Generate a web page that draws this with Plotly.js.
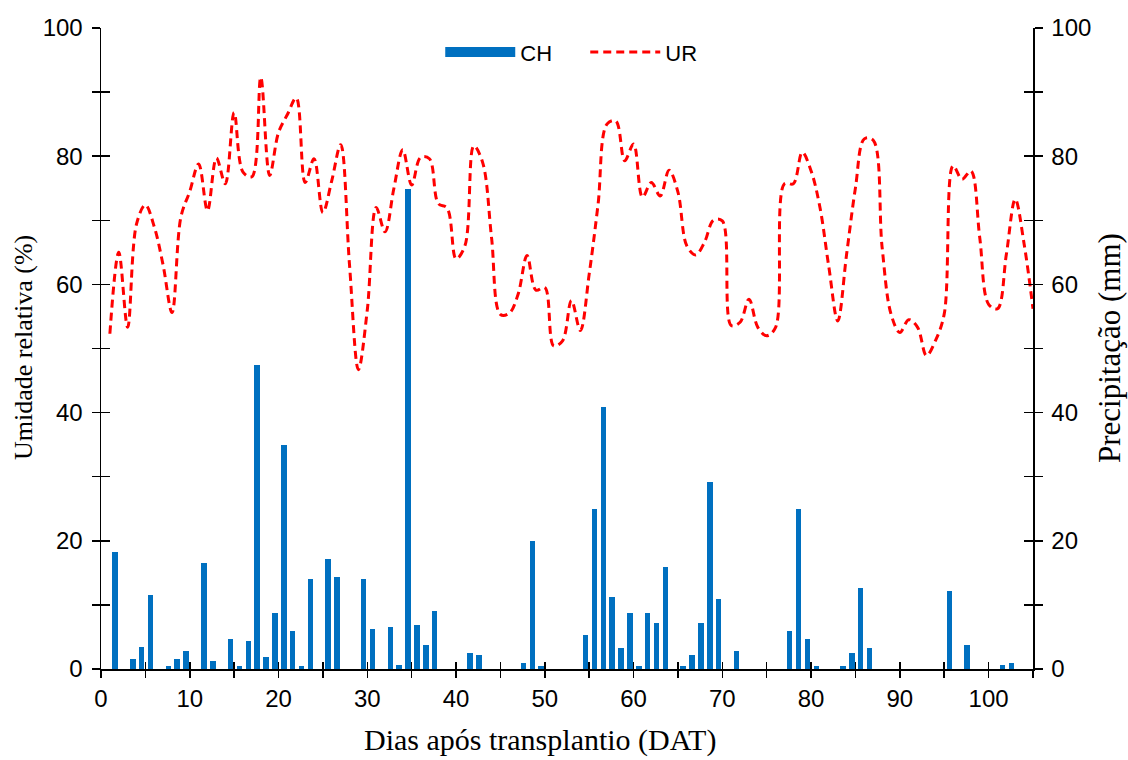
<!DOCTYPE html>
<html>
<head>
<meta charset="utf-8">
<script src="https://cdn.plot.ly/plotly-3.0.1.min.js"></script>
<style>html,body{margin:0;padding:0;background:#fff;}#chart{width:1128px;height:760px;}</style>
</head>
<body>
<div id="chart"></div>
<script>
// Precipitação (CH, mm) by day after transplanting
const chDays = [1,3,4,5,7,8,9,11,12,14,15,16,17,18,19,20,21,22,23,25,26,29,30,32,33,34,35,36,37,41,42,47,48,49,54,55,56,57,58,59,60,61,62,63,65,66,67,68,69,71,77,78,79,80,83,84,85,86,95,97,101,102];
const chValues = [18.3,1.6,3.4,11.5,0.4,1.6,2.8,16.5,1.2,4.7,0.4,4.4,47.4,1.9,8.7,34.9,5.9,0.4,14.0,17.1,14.3,14.0,6.2,6.6,0.7,74.9,6.9,3.7,9.0,2.5,2.2,0.9,19.9,0.4,5.3,25.0,40.9,11.2,3.2,8.7,0.4,8.7,7.2,15.9,0.4,2.2,7.2,29.2,10.9,2.8,5.9,25.0,4.7,0.4,0.4,2.5,12.7,3.2,12.2,3.7,0.6,0.9];

// Umidade relativa (UR, %) days 1..105
const urDays = Array.from({length:105},(_,i)=>i+1);
const urValues = [52.3,65.0,53.3,69.4,72.4,69.0,63.0,55.6,70.5,74.5,
78.8,71.5,79.7,75.7,86.8,77.5,76.8,92.3,77.0,83.7,
86.5,89.1,75.9,79.6,71.2,76.2,81.8,63.0,46.7,56.0,
72.0,68.2,75.0,81.0,75.5,79.8,79.6,72.6,71.9,64.0,
66.0,81.6,79.0,67.3,55.3,55.5,58.5,64.5,59.1,59.5,
50.4,51.2,57.5,52.8,61.6,72.5,85.0,85.5,79.3,81.9,
73.6,75.9,73.8,77.8,74.4,66.0,64.6,66.6,70.0,69.9,
53.6,54.1,57.7,53.3,52.0,53.3,75.7,75.7,80.6,77.7,
72.0,62.7,54.3,64.7,75.1,82.7,82.5,65.8,55.4,52.5,
54.5,53.3,48.9,51.2,55.4,78.5,76.4,77.7,67.3,56.9,
56.2,64.7,73.3,66.3,56.2];

const xTickVals = [0,10,20,30,40,50,60,70,80,90,100];
const yTickVals = [0,20,40,60,80,100];

const blue = '#0070C0';
const red = '#FF0000';
const sans = 'Liberation Sans, Arial, sans-serif';
const serif = 'Liberation Serif, Times New Roman, serif';

const traces = [
  {type:'scatter', mode:'lines', name:'CH', x:[null], y:[null], xaxis:'x', yaxis:'y2',
   line:{color:blue, width:12}, hoverinfo:'skip'},
  {type:'bar', name:'CH', x:chDays, y:chValues, xaxis:'x', yaxis:'y2',
   width:0.62, offset:0.28, marker:{color:blue, line:{width:0}}, showlegend:false},
  {type:'scatter', mode:'lines', name:'UR', x:urDays, y:urValues, xaxis:'x', yaxis:'y',
   line:{color:red, width:3, dash:'8px,5px', shape:'spline', smoothing:1}},
  // empty traces so the overlay axes (inner half of the crossing ticks) are drawn
  {type:'scatter', mode:'lines', x:[null], y:[null], xaxis:'x2', yaxis:'y3', showlegend:false, hoverinfo:'skip'},
  {type:'scatter', mode:'lines', x:[null], y:[null], xaxis:'x2', yaxis:'y4', showlegend:false, hoverinfo:'skip'}
];

const tickFont = {family:sans, size:24, color:'#000'};
const axisCommon = {showgrid:false, zeroline:false, showline:true, linecolor:'#000', linewidth:1.5,
  tickcolor:'#000', tickwidth:1.5, tickfont:tickFont};
const innerAxis = {showgrid:false, zeroline:false, showline:false, tickwidth:1.5, tickcolor:'#000',
  showticklabels:false, ticks:'inside'};

const layout = {
  width:1128, height:760,
  margin:{l:101, r:95, t:28, b:91},
  paper_bgcolor:'#fff', plot_bgcolor:'#fff',
  showlegend:true,
  legend:{orientation:'h', x:0.364, xanchor:'left', y:0.995, yanchor:'top',
    font:{family:sans, size:22, color:'#000'}, itemwidth:70, entrywidth:60, entrywidthmode:'pixels',
    bgcolor:'rgba(0,0,0,0)', traceorder:'normal'},
  bargap:0,
  xaxis: Object.assign({}, axisCommon, {range:[0,105], tickvals:xTickVals, ticks:'outside', ticklen:7,
    minor:{tickvals:[5,15,25,35,45,55,65,75,85,95,105], ticks:'outside', ticklen:7, tickcolor:'#000', tickwidth:1.5},
    ticklabelstandoff:1}),
  xaxis2: Object.assign({}, innerAxis, {overlaying:'x', anchor:'y', side:'bottom', range:[0,105], ticklen:7, dtick:5, tick0:0}),
  yaxis: Object.assign({}, axisCommon, {range:[0,100], tickvals:yTickVals, ticks:'outside', ticklen:8,
    minor:{tickvals:[10,30,50,70,90], ticks:'outside', ticklen:8, tickcolor:'#000', tickwidth:1.5},
    ticklabelstandoff:4}),
  yaxis2: Object.assign({}, axisCommon, {overlaying:'y', side:'right', anchor:'x', range:[0,100], tickvals:yTickVals,
    ticks:'outside', ticklen:8,
    minor:{tickvals:[10,30,50,70,90], ticks:'outside', ticklen:8, tickcolor:'#000', tickwidth:1.5},
    ticklabelstandoff:4}),
  yaxis3: Object.assign({}, innerAxis, {overlaying:'y', side:'left', anchor:'x2', range:[0,100], ticklen:9, dtick:10, tick0:0}),
  yaxis4: Object.assign({}, innerAxis, {overlaying:'y', side:'right', anchor:'x2', range:[0,100], ticklen:9, dtick:10, tick0:0}),
  annotations:[
    {text:'Umidade relativa (%)', xref:'paper', yref:'paper', x:-0.0826, y:0.5008, xanchor:'center', yanchor:'middle',
     textangle:-90, showarrow:false, font:{family:serif, size:26, color:'#000'}},
    {text:'Precipitação (mm)', xref:'paper', yref:'paper', x:1.0826, y:0.5008, xanchor:'center', yanchor:'middle',
     textangle:-90, showarrow:false, font:{family:serif, size:31, color:'#000'}},
    {text:'Dias após transplantio (DAT)', xref:'paper', yref:'paper', x:0.471, y:-0.110, xanchor:'center', yanchor:'middle',
     showarrow:false, font:{family:serif, size:30, color:'#000'}}
  ]
};

Plotly.newPlot('chart', traces, layout, {displayModeBar:false, staticPlot:true});
</script>
</body>
</html>
